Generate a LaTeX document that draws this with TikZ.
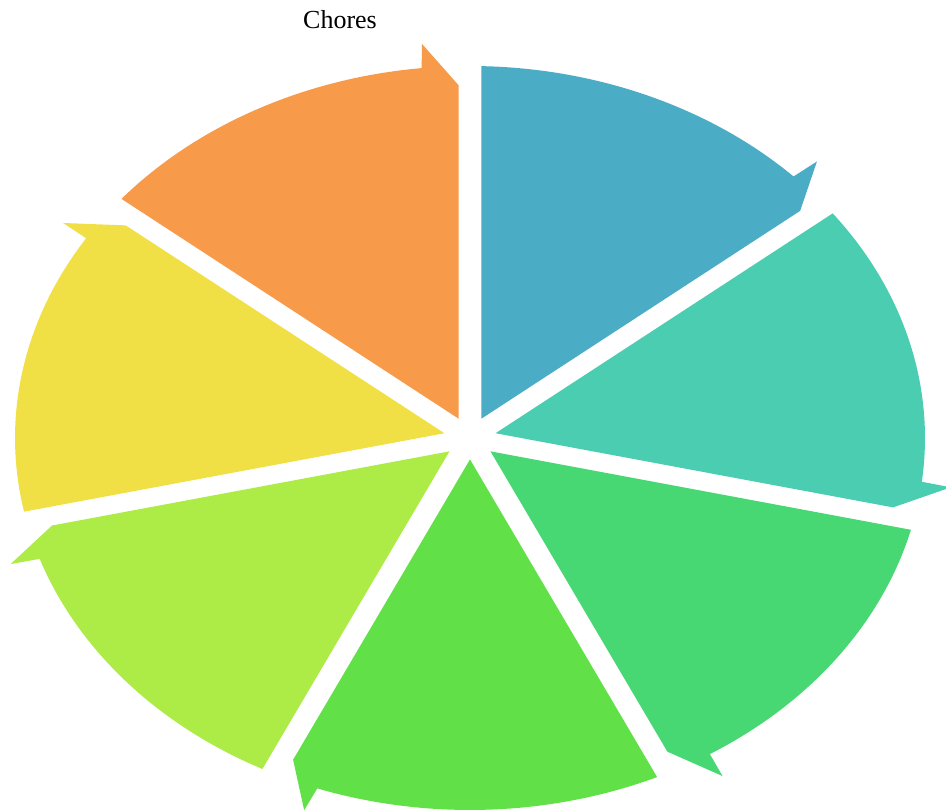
\documentclass[tikz,border=0pt]{standalone}
\usepackage{fontspec}
\setmainfont{Liberation Serif}
\usetikzlibrary{calc}
\definecolor{cOrange}{HTML}{F79A4A}
\definecolor{cBlue}{HTML}{4BACC6}
\definecolor{cTeal}{HTML}{4ACDB0}
\definecolor{cGreen}{HTML}{47D873}
\definecolor{cBright}{HTML}{61E147}
\definecolor{cLime}{HTML}{ADEB46}
\definecolor{cYellow}{HTML}{F0E046}
\tikzset{titletext/.style={font=\fontsize{26}{30}\selectfont, anchor=base, inner sep=0pt}}
\begin{document}
\begin{tikzpicture}[x=1pt,y=1pt]
\useasboundingbox (0,0) rectangle (946,811);
\node[titletext] (title) at (340,782) {Chores};
\begin{scope}[shift={(470,373)}, x=455pt, y=372pt]
\foreach \k/\c in {0/cOrange,1/cBlue,2/cTeal,3/cGreen,4/cBright,5/cLime,6/cYellow}{
  \pgfmathsetmacro{\e}{90-\k*360/7}
  \pgfmathsetmacro{\A}{\e+360/7}
  \pgfmathsetmacro{\As}{\A-1.43}
  \pgfmathsetmacro{\Ae}{\e+6.1}
  \pgfmathsetmacro{\An}{\e+5.7}
  \pgfmathsetmacro{\Ap}{\e+90}
  \pgfmathsetmacro{\Bi}{\e+180/7}
  \fill[\c] (\Bi:0.0576) -- (\As:1) arc[start angle=\As, end angle=\Ae, radius=1]
     -- (\An:1.065) -- ($(\e:0.948)+(\Ap:0.025)$) -- cycle;
}
\end{scope}
\end{tikzpicture}
\end{document}
